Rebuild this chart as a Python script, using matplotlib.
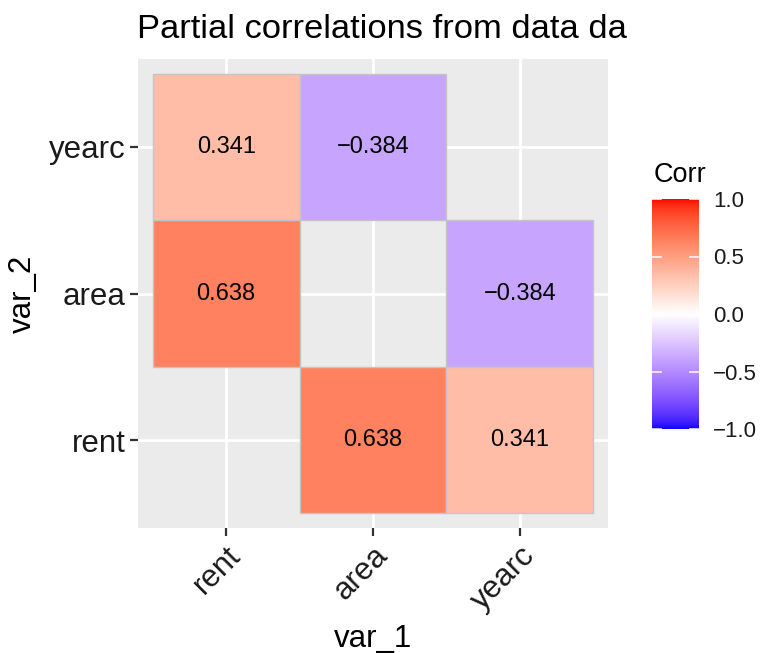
import numpy as np
import matplotlib
matplotlib.use("Agg")
import matplotlib.pyplot as plt
from matplotlib.colors import ListedColormap, Normalize
from matplotlib.patches import Rectangle
import matplotlib.cm as cm

plt.rcParams['font.family'] = ['Liberation Sans', 'DejaVu Sans']

# ---- data ----
categories = ['rent', 'area', 'yearc']
var_1 = ['rent', 'area', 'rent', 'yearc', 'area', 'yearc']
var_2 = ['yearc', 'yearc', 'area', 'area', 'rent', 'rent']
corr = [0.341, -0.384, 0.638, -0.384, 0.638, 0.341]
legend_ticks = [-1.0, -0.5, 0.0, 0.5, 1.0]
title = 'Partial correlations from data da'

# ---- Lab-interpolated diverging palette (blue - white - red) ----
def srgb_to_lab(rgb):
    rgb = np.asarray(rgb, float)
    lin = np.where(rgb <= 0.04045, rgb / 12.92, ((rgb + 0.055) / 1.055) ** 2.4)
    M = np.array([[0.4124564, 0.3575761, 0.1804375],
                  [0.2126729, 0.7151522, 0.0721750],
                  [0.0193339, 0.1191920, 0.9503041]])
    xyz = lin @ M.T
    wp = np.array([0.95047, 1.0, 1.08883])
    t = xyz / wp
    f = np.where(t > (6/29) ** 3, np.cbrt(t), t / (3 * (6/29) ** 2) + 4/29)
    L = 116 * f[..., 1] - 16
    a = 500 * (f[..., 0] - f[..., 1])
    b = 200 * (f[..., 1] - f[..., 2])
    return np.stack([L, a, b], -1)

def lab_to_srgb(lab):
    lab = np.asarray(lab, float)
    fy = (lab[..., 0] + 16) / 116
    fx = fy + lab[..., 1] / 500
    fz = fy - lab[..., 2] / 200
    f = np.stack([fx, fy, fz], -1)
    t = np.where(f > 6/29, f ** 3, 3 * (6/29) ** 2 * (f - 4/29))
    wp = np.array([0.95047, 1.0, 1.08883])
    xyz = t * wp
    Minv = np.array([[3.2404542, -1.5371385, -0.4985314],
                     [-0.9692660, 1.8760108, 0.0415560],
                     [0.0556434, -0.2040259, 1.0572252]])
    lin = xyz @ Minv.T
    lin = np.clip(lin, 0, 1)
    rgb = np.where(lin <= 0.0031308, 12.92 * lin, 1.055 * lin ** (1/2.4) - 0.055)
    return np.clip(rgb, 0, 1)

low = srgb_to_lab([0, 0, 1])
mid = srgb_to_lab([1, 1, 1])
high = srgb_to_lab([1, 0, 0])
s = np.linspace(0, 1, 512)
labs = np.where(s[:, None] < 0.5,
                low + (mid - low) * (s[:, None] / 0.5),
                mid + (high - mid) * ((s[:, None] - 0.5) / 0.5))
cmap = ListedColormap(lab_to_srgb(labs))
norm = Normalize(-1, 1)

# ---- figure ----
W, H = 763, 653
fig = plt.figure(figsize=(W / 100, H / 100), dpi=100)

def box(x0, y0, x1, y1):
    return [x0 / W, 1 - y1 / H, (x1 - x0) / W, (y1 - y0) / H]

ax = fig.add_axes(box(138, 59, 608, 528))
ax.set_facecolor('#EBEBEB')
for sp in ax.spines.values():
    sp.set_visible(False)

pos = {c: i for i, c in enumerate(categories)}
ax.set_xlim(-0.6, len(categories) - 0.4)
ax.set_ylim(-0.6, len(categories) - 0.4)
ax.set_xticks(range(len(categories)))
ax.set_yticks(range(len(categories)))
ax.grid(True, color='white', linewidth=2.0)
ax.set_axisbelow(True)

for v1, v2, c in zip(var_1, var_2, corr):
    x, y = pos[v1], pos[v2]
    ax.add_patch(Rectangle((x - 0.5, y - 0.5), 1, 1, facecolor=cmap(norm(c)),
                           edgecolor='#C4C4C4', linewidth=1.0, zorder=2))
    ax.text(x, y, f'{c:.3f}'.replace('-', '\u2212'), ha='center', va='center',
            fontsize=17, color='black', zorder=3)

ax.set_xticklabels(categories, rotation=45, ha='right', va='top',
                   rotation_mode='anchor', fontsize=22.5, color='#1A1A1A')
ax.set_yticklabels(categories, fontsize=22.5, color='#1A1A1A')
ax.tick_params(axis='both', length=6, width=1.6, color='#333333', pad=3)

ax.set_xlabel('var_1', fontsize=22.5, labelpad=6)
ax.set_ylabel('var_2', fontsize=22.5, labelpad=8)
fig.text(137 / W, 1 - 38 / H, title, fontsize=24.8, ha='left', va='baseline')

# ---- colour bar ----
cax = fig.add_axes(box(652, 199, 699, 429))
cb = fig.colorbar(cm.ScalarMappable(norm=norm, cmap=cmap), cax=cax)
cb.outline.set_visible(False)
cb.set_ticks(legend_ticks)
cb.set_ticklabels([f'{t:.1f}'.replace('-', '\u2212') for t in legend_ticks])
cax.tick_params(length=0, labelsize=16, pad=10, labelcolor='#1A1A1A')
for t in legend_ticks:
    cax.plot([0, 0.2], [t, t], color='white', lw=1.2, alpha=0.9, transform=cax.get_yaxis_transform(), zorder=5)
    cax.plot([0.8, 1.0], [t, t], color='white', lw=1.2, alpha=0.9, transform=cax.get_yaxis_transform(), zorder=5)
fig.text(654 / W, 1 - 182 / H, 'Corr', fontsize=19.5, ha='left', va='baseline')

fig.savefig('out.png', dpi=100)
